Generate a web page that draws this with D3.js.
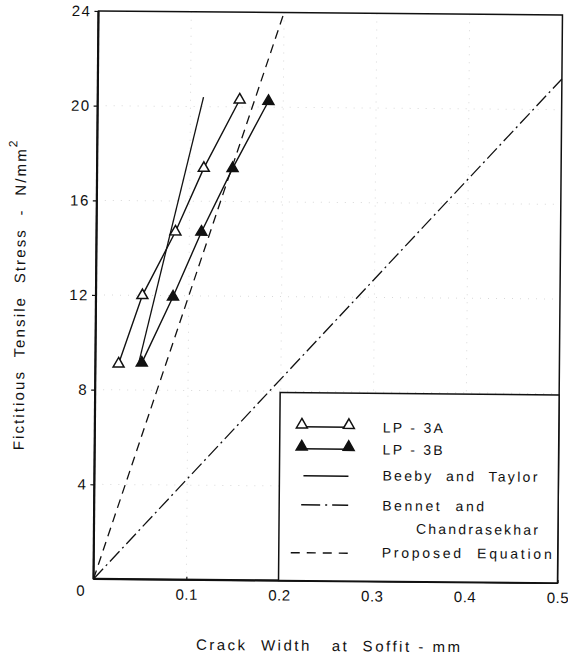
<!DOCTYPE html>
<html>
<head>
<meta charset="utf-8">
<script src="https://cdn.jsdelivr.net/npm/d3@7"></script>
<style>
  body { margin: 0; background: #fff; }
  svg { display: block; }
  text { font-family: "Liberation Sans", Arial, sans-serif; fill: #111; white-space: pre; }
</style>
</head>
<body>
<svg id="chart" width="568" height="659"></svg>
<script>
// ticks
var xTicks = [0.1, 0.2, 0.3, 0.4, 0.5]
var yTicks = [4, 8, 12, 16, 20, 24]

// test results
var lp3aWidth = [0.025, 0.050, 0.085, 0.115, 0.153]
var lp3aStress = [9.1, 12.0, 14.7, 17.4, 20.3]
var lp3bWidth = [0.050, 0.083, 0.113, 0.146, 0.184]
var lp3bStress = [9.15, 11.95, 14.7, 17.4, 20.25]

// predictions
var beebyWidth = [0.047, 0.114]
var beebyStress = [9.2, 20.4]
var bennetWidth = [0, 0.5]
var bennetStress = [0, 21.3]
var proposedWidth = [0, 0.2]
var proposedStress = [0, 24]

var legendLabels = ["LP - 3A", "LP - 3B", "Beeby  and  Taylor", "Bennet  and", "Chandrasekhar", "Proposed  Equation"]

var box = {left: 96, right: 560, top: 13, bottom: 581}

var svg = d3.select("#chart")
var g = svg.append("g").attr("transform", "rotate(0.5,328,296)")

var xScale = d3.scaleLinear().domain([0, 0.5]).range([box.left, box.right])
var yScale = d3.scaleLinear().domain([0, 24]).range([box.bottom, box.top])

var pairs = function(xs, ys) { return xs.map(function(x, i) { return [x, ys[i]] }) }

var line = d3.line()
    .x(function(d) { return xScale(d[0]) })
    .y(function(d) { return yScale(d[1]) })

// faint paper grid
g.append("g").selectAll("line.h")
    .data(yTicks.slice(0, 5))
    .enter().append("line")
    .attr("x1", box.left).attr("x2", box.right)
    .attr("y1", yScale).attr("y2", yScale)
    .attr("stroke", "#d8d8d8").attr("stroke-width", 1)
    .attr("stroke-dasharray", "1,7")
g.append("g").selectAll("line.v")
    .data(xTicks.slice(0, 4))
    .enter().append("line")
    .attr("x1", xScale).attr("x2", xScale)
    .attr("y1", box.top).attr("y2", box.bottom)
    .attr("stroke", "#d8d8d8").attr("stroke-width", 1)
    .attr("stroke-dasharray", "1,7")

// axes
var yAxis = d3.axisLeft(yScale).tickValues(yTicks).tickSize(4).tickPadding(3)
var xAxis = d3.axisBottom(xScale).tickValues(xTicks).tickFormat(d3.format(".1f")).tickSize(-3).tickPadding(8)

var ya = g.append("g").attr("transform", "translate(" + box.left + ",0)").call(yAxis)
var xa = g.append("g").attr("transform", "translate(0," + box.bottom + ")").call(xAxis)
;[ya, xa].forEach(function(a) {
    a.select(".domain").remove()
    a.selectAll("line").attr("stroke", "#111").attr("stroke-width", 1.2)
    a.selectAll("text").attr("font-size", 15).attr("fill", "#111")
        .attr("font-family", "'Liberation Sans', Arial, sans-serif")
})
ya.selectAll("text").attr("letter-spacing", 1.5)
xa.selectAll("text").attr("dy", "0.8em").attr("letter-spacing", 0.5)

g.append("text").attr("x", box.left - 13).attr("y", box.bottom + 17)
    .attr("text-anchor", "middle").attr("font-size", 15).text("0")

// frame
g.append("rect")
    .attr("x", box.left).attr("y", box.top)
    .attr("width", box.right - box.left).attr("height", box.bottom - box.top)
    .attr("fill", "none").attr("stroke", "#111").attr("stroke-width", 1.5)
g.append("line").attr("x1", box.left).attr("x2", box.left)
    .attr("y1", box.top).attr("y2", box.bottom)
    .attr("stroke", "#111").attr("stroke-width", 2.2)
g.append("line").attr("x1", box.left).attr("x2", box.right)
    .attr("y1", box.bottom).attr("y2", box.bottom)
    .attr("stroke", "#111").attr("stroke-width", 2.2)

// prediction lines
g.append("path").attr("d", line(pairs(proposedWidth, proposedStress)))
    .attr("fill", "none").attr("stroke", "#111").attr("stroke-width", 1.3)
    .attr("stroke-dasharray", "9,6")
g.append("path").attr("d", line(pairs(bennetWidth, bennetStress)))
    .attr("fill", "none").attr("stroke", "#111").attr("stroke-width", 1.3)
    .attr("stroke-dasharray", "14,4,2,4")
g.append("path").attr("d", line(pairs(beebyWidth, beebyStress)))
    .attr("fill", "none").attr("stroke", "#111").attr("stroke-width", 1.3)

// test series
var tri = d3.symbol().type(d3.symbolTriangle).size(52)

var drawSeries = function(xs, ys, filled)
    {
        var pts = pairs(xs, ys)
        g.append("path").attr("d", line(pts))
            .attr("fill", "none").attr("stroke", "#111").attr("stroke-width", 1.4)
        g.append("g").selectAll("path")
            .data(pts)
            .enter().append("path")
            .attr("d", tri)
            .attr("transform", function(d) { return "translate(" + xScale(d[0]) + "," + yScale(d[1]) + ")" })
            .attr("fill", filled ? "#111" : "#fff")
            .attr("stroke", "#111").attr("stroke-width", 1.5)
    }
drawSeries(lp3aWidth, lp3aStress, false)
drawSeries(lp3bWidth, lp3bStress, true)

// legend
var legendLeft = 281, legendTop = 393
g.append("rect")
    .attr("x", legendLeft).attr("y", legendTop)
    .attr("width", box.right - legendLeft).attr("height", box.bottom - legendTop)
    .attr("fill", "#fff").attr("stroke", "#111").attr("stroke-width", 1.5)

var rowBase = [432, 454, 480, 510, 533, 557]
var rowX = [384, 384, 384, 384, 418, 384]
var rowLen = [60, 60, 155, 102, 122, 170]
g.append("g").selectAll("text")
    .data(legendLabels)
    .enter().append("text")
    .attr("x", function(d, i) { return rowX[i] })
    .attr("y", function(d, i) { return rowBase[i] })
    .attr("font-size", 14)
    .attr("textLength", function(d, i) { return rowLen[i] })
    .attr("lengthAdjust", "spacing")
    .text(function(d) { return d })

var symX = [303, 350]
;[0, 1].forEach(function(i) {
    var yy = rowBase[i] - 7
    g.append("line").attr("x1", symX[0]).attr("x2", symX[1]).attr("y1", yy + 2).attr("y2", yy + 2)
        .attr("stroke", "#111").attr("stroke-width", 1.4)
    symX.forEach(function(sx) {
        g.append("path").attr("d", tri)
            .attr("transform", "translate(" + sx + "," + yy + ")")
            .attr("fill", i == 1 ? "#111" : "#fff")
            .attr("stroke", "#111").attr("stroke-width", 1.5)
    })
})
g.append("line").attr("x1", 305).attr("x2", 350).attr("y1", rowBase[2] - 4).attr("y2", rowBase[2] - 4)
    .attr("stroke", "#111").attr("stroke-width", 1.4)
g.append("line").attr("x1", 303).attr("x2", 350).attr("y1", rowBase[3] - 5).attr("y2", rowBase[3] - 5)
    .attr("stroke", "#111").attr("stroke-width", 1.4).attr("stroke-dasharray", "19,5,2,5,19")
g.append("line").attr("x1", 293).attr("x2", 350).attr("y1", rowBase[5] - 4).attr("y2", rowBase[5] - 4)
    .attr("stroke", "#111").attr("stroke-width", 1.4).attr("stroke-dasharray", "9,7")

// axis titles
g.append("text").attr("x", 199).attr("y", 651)
    .attr("font-size", 15)
    .attr("textLength", 264).attr("lengthAdjust", "spacing")
    .text("Crack  Width   at  Soffit - mm")

var yt = g.append("g").attr("transform", "translate(25,296) rotate(-90)")
yt.append("text").attr("x", -157).attr("y", 0)
    .attr("font-size", 15)
    .attr("textLength", 301).attr("lengthAdjust", "spacing")
    .text("Fictitious  Tensile  Stress  -  N/mm")
yt.append("text").attr("x", 146).attr("y", -9)
    .attr("font-size", 12).text("2")
</script>
</body>
</html>
